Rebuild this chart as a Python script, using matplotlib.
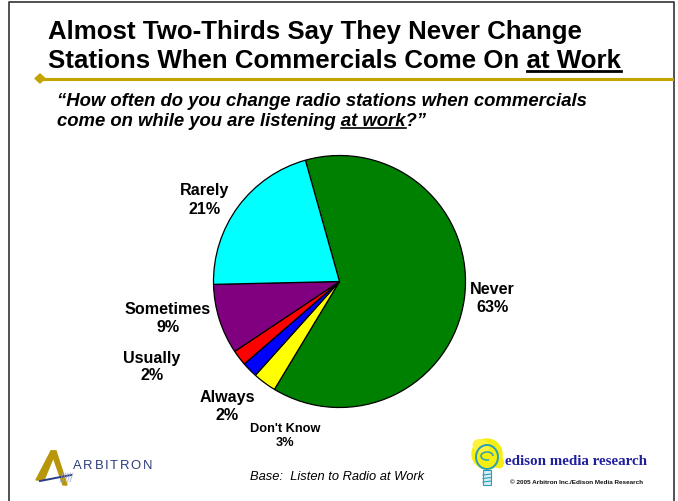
import matplotlib
matplotlib.use("Agg")
import matplotlib.pyplot as plt
from matplotlib.patches import Polygon, Ellipse, Rectangle, Arc
from matplotlib.lines import Line2D

# Survey answers, clockwise from the top of the pie
categories = ["Never", "Don't Know", "Always", "Usually", "Sometimes", "Rarely"]
shares = [63, 3, 2, 2, 9, 21]
slice_colors = ["#008000", "#FFFF00", "#0000FF", "#FF0000", "#800080", "#00FFFF"]

title_lines = ["Almost Two-Thirds Say They Never Change",
               "Stations When Commercials Come On at Work"]
question_lines = ["\u201cHow often do you change radio stations when commercials",
                  "come on while you are listening at work?\u201d"]
base_note = "Base:  Listen to Radio at Work"

W, H = 678, 502
fig = plt.figure(figsize=(W / 100, H / 100), dpi=100)
ax = fig.add_axes([0, 0, 1, 1])
ax.set_xlim(0, W)
ax.set_ylim(0, H)
ax.axis("off")

def Y(y):
    # page coordinates measured from the top edge
    return H - y

FONT = "Liberation Sans"
GOLD = "#C4A400"

# slide frame
ax.add_line(Line2D([9, 9, 674, 674], [Y(505), Y(3), Y(3), Y(505)], color="#333333", lw=1.2))

# title
TFS = 18.6
ax.text(48, Y(39), title_lines[0], fontsize=TFS, fontweight="bold", family=FONT, va="baseline")
t2 = ax.text(48, Y(68), title_lines[1], fontsize=TFS, fontweight="bold", family=FONT, va="baseline")

renderer = fig.canvas.get_renderer()

def width_of(s, **kw):
    tmp = ax.text(0, 0, s, **kw)
    w = tmp.get_window_extent(renderer).width
    tmp.remove()
    return w

tkw = dict(fontsize=TFS, fontweight="bold", family=FONT)
full_w = t2.get_window_extent(renderer).width
u_w = width_of("at Work", **tkw)
ax.add_line(Line2D([48 + full_w - u_w, 48 + full_w], [Y(71.5), Y(71.5)], color="black", lw=2.0))

# gold rule with diamond
ax.add_line(Line2D([40, 672], [Y(79.5), Y(79.5)], color=GOLD, lw=2.2))
ax.add_patch(Polygon([[35, Y(79.5)], [40, Y(75)], [45, Y(79.5)], [40, Y(84)]], color=GOLD))

# question
qkw = dict(fontsize=13.3, fontweight="bold", style="italic", family=FONT)
ax.text(57, Y(106), question_lines[0], va="baseline", **qkw)
ax.text(57, Y(126), question_lines[1], va="baseline", **qkw)
pre_w = width_of("come on while you are listening ", **qkw)
aw_w = width_of("at work", **qkw)
ax.add_line(Line2D([57 + pre_w, 57 + pre_w + aw_w], [Y(128.5), Y(128.5)], color="black", lw=1.2))

# pie
ax.pie(shares, colors=slice_colors, startangle=105.7, counterclock=False,
       center=(339.5, Y(282.5)), radius=126,
       wedgeprops=dict(edgecolor="black", linewidth=0.9), frame=True)
ax.set_xlim(0, W)
ax.set_ylim(0, H)
ax.set_aspect("equal", adjustable="box")
ax.axis("off")

label_pos = {"Never": (492, 298), "Rarely": (205, 200), "Sometimes": (168, 318),
             "Usually": (152, 367), "Always": (227, 407), "Don't Know": (285, 436)}
for cat, val in zip(categories, shares):
    x, y = label_pos[cat]
    fs = 9.2 if cat == "Don't Know" else 11.6
    ax.text(x, Y(y), f"{cat}\n{val}%", fontsize=fs, fontweight="bold", family=FONT,
            ha="center", va="center", linespacing=1.25)

# base note
ax.text(250, Y(480), base_note, fontsize=9.3, style="italic", family=FONT, va="baseline")

# Arbitron mark
AGOLD = "#B8960A"
ax.add_patch(Polygon([[51, Y(452)], [56, Y(452)], [44, Y(481)], [36, Y(481)]], color=AGOLD))
ax.add_patch(Polygon([[51, Y(452)], [56, Y(452)], [67, Y(486)], [63, Y(486)]], color=AGOLD))
ax.add_line(Line2D([40, 71], [Y(482), Y(476)], color="#2B3C8C", lw=1.4))
for k in range(5):
    ax.add_line(Line2D([60 + 2.5 * k, 63 + 2.5 * k], [Y(483), Y(474)], color="#9AA6C8", lw=0.5))
akw = dict(fontsize=9.4, family=FONT, color="#2B3C7A", va="center")
letters = "ARBITRON"
widths = [width_of(ch, **akw) for ch in letters]
gap = (152 - 73 - sum(widths)) / (len(letters) - 1)
x = 73
for ch, w in zip(letters, widths):
    ax.text(x, Y(466), ch, **akw)
    x += w + gap

# Edison mark
ax.add_patch(Ellipse((487, Y(455)), 30, 30, angle=20, color="#F5EE10"))
ax.add_patch(Ellipse((481, Y(447)), 16, 12, angle=-20, color="#FFF23A"))
ax.add_patch(Ellipse((498, Y(462)), 10, 14, angle=20, color="#F5EE10"))
ax.add_patch(Ellipse((487, Y(458)), 22, 24, fill=False, ec="#2AA0B8", lw=1.4))
ax.add_patch(Arc((487, Y(457)), 12, 8, theta1=0, theta2=300, ec="#2AA0B8", lw=1.1))
ax.add_patch(Rectangle((483, Y(486)), 8, 15, fc="#D8EEF4", ec="#2AA0B8", lw=0.8))
for k in range(3):
    ax.add_line(Line2D([483, 491], [Y(476 + 3.5 * k), Y(475 + 3.5 * k)], color="#2AA0B8", lw=0.8))
ax.text(505, Y(462), "edison media research", fontsize=10.8, fontweight="bold",
        family="Liberation Serif", color="#1F1F9E", va="center")
ax.text(510, Y(483), "\u00a9 2005 Arbitron Inc./Edison Media Research", fontsize=4.6,
        fontweight="bold", family=FONT, color="#111111", va="center")

fig.savefig("out.png", dpi=100)
